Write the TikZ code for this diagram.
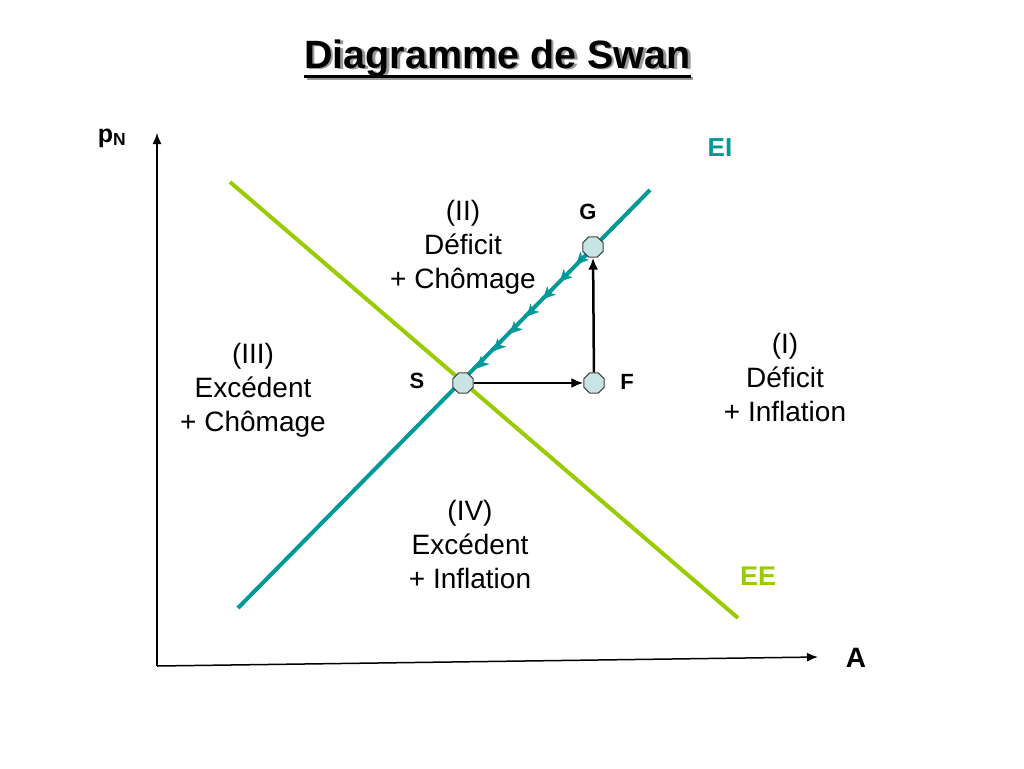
\documentclass[tikz,border=0pt]{standalone}
\usepackage{fontspec}
\setmainfont{Liberation Sans}
\usetikzlibrary{arrows.meta, positioning, shapes, calc, decorations.markings}

\definecolor{eiteal}{RGB}{0,153,153}
\definecolor{eegreen}{RGB}{153,204,0}
\definecolor{ptfill}{RGB}{200,228,228}

\tikzset{
    zone/.style={align=center, font=\fontsize{28}{34}\selectfont},
    pt/.style={regular polygon, regular polygon sides=8, draw=black!75, fill=ptfill, minimum size=22pt, inner sep=0pt, line width=1pt},
    ptlabel/.style={font=\bfseries\fontsize{22}{26}\selectfont},
    titlefont/.style={font=\bfseries\fontsize{39.5}{44}\selectfont, inner sep=0pt, anchor=base},
    barbs/.style={decoration={markings, mark=between positions 24pt and 175pt step 24pt with {\arrow[eiteal]{Stealth[length=12pt, width=12pt, inset=3.5pt]}}}, decorate},
}

\begin{document}
\begin{tikzpicture}[x=1pt, y=-1pt]
    \useasboundingbox (0,0) rectangle (1024,768);

    % title with shadow
    \node[titlefont, text=black!40] (titleshadow) at (500,70) {Diagramme de Swan};
    \draw[black!40, line width=3pt] ($(titleshadow.base west)+(0,8)$) -- ($(titleshadow.base east)+(0,8)$);
    \node[titlefont] (title) at (497.5,68) {Diagramme de Swan};
    \draw[line width=3pt] ($(title.base west)+(0,8)$) -- ($(title.base east)+(0,8)$);

    % axes
    \coordinate (o) at (157,666);
    \coordinate (ytop) at (157,133);
    \coordinate (xend) at (818,657);
    \draw[-{Latex[length=11pt, width=9pt]}, line width=1.5pt] (o) -- (ytop);
    \draw[-{Latex[length=11pt, width=9pt]}, line width=1.5pt] (o) -- (xend);
    \node[font=\bfseries\fontsize{25}{28}\selectfont] (pN) at (112,138) {p\textsubscript{N}};
    \node[font=\bfseries\fontsize{28}{32}\selectfont] (A) at (856,658) {A};

    % EI and EE
    \coordinate (ei1) at (238,608);
    \coordinate (ei2) at (650,190);
    \coordinate (ee1) at (230,182);
    \coordinate (ee2) at (738,618);
    \draw[eiteal, line width=4pt] (ei1) -- (ei2);
    \draw[eegreen, line width=4pt] (ee1) -- (ee2);
    \node[text=eiteal, font=\bfseries\fontsize{26}{30}\selectfont] (EI) at (720,148) {EI};
    \node[text=eegreen, font=\bfseries\fontsize{27}{30}\selectfont] (EE) at (758,576) {EE};

    % points
    \node[pt] (S) at (463,383) {};
    \node[pt] (F) at (594,383) {};
    \node[pt] (G) at (593,247) {};
    \node[ptlabel] (Slabel) at (417,381) {S};
    \node[ptlabel] (Flabel) at (627,382) {F};
    \node[ptlabel] (Glabel) at (588,212) {G};

    \draw[-{Latex[length=12pt, width=10pt]}, line width=2.5pt] (S) -- (F);
    \draw[-{Latex[length=12pt, width=10pt]}, line width=2.5pt] (F) -- (G);
    \path[barbs] (G.center) -- (S.center);

    % zones
    \node[zone] (zI) at (785,377) {(I)\\Déficit\\+ Inflation};
    \node[zone] (zII) at (463,247) {(II)\\Déficit\\+ Chômage};
    \node[zone] (zIII) at (253,390) {(III)\\Excédent\\+ Chômage};
    \node[zone] (zIV) at (470,544) {(IV)\\Excédent\\+ Inflation};
\end{tikzpicture}
\end{document}
